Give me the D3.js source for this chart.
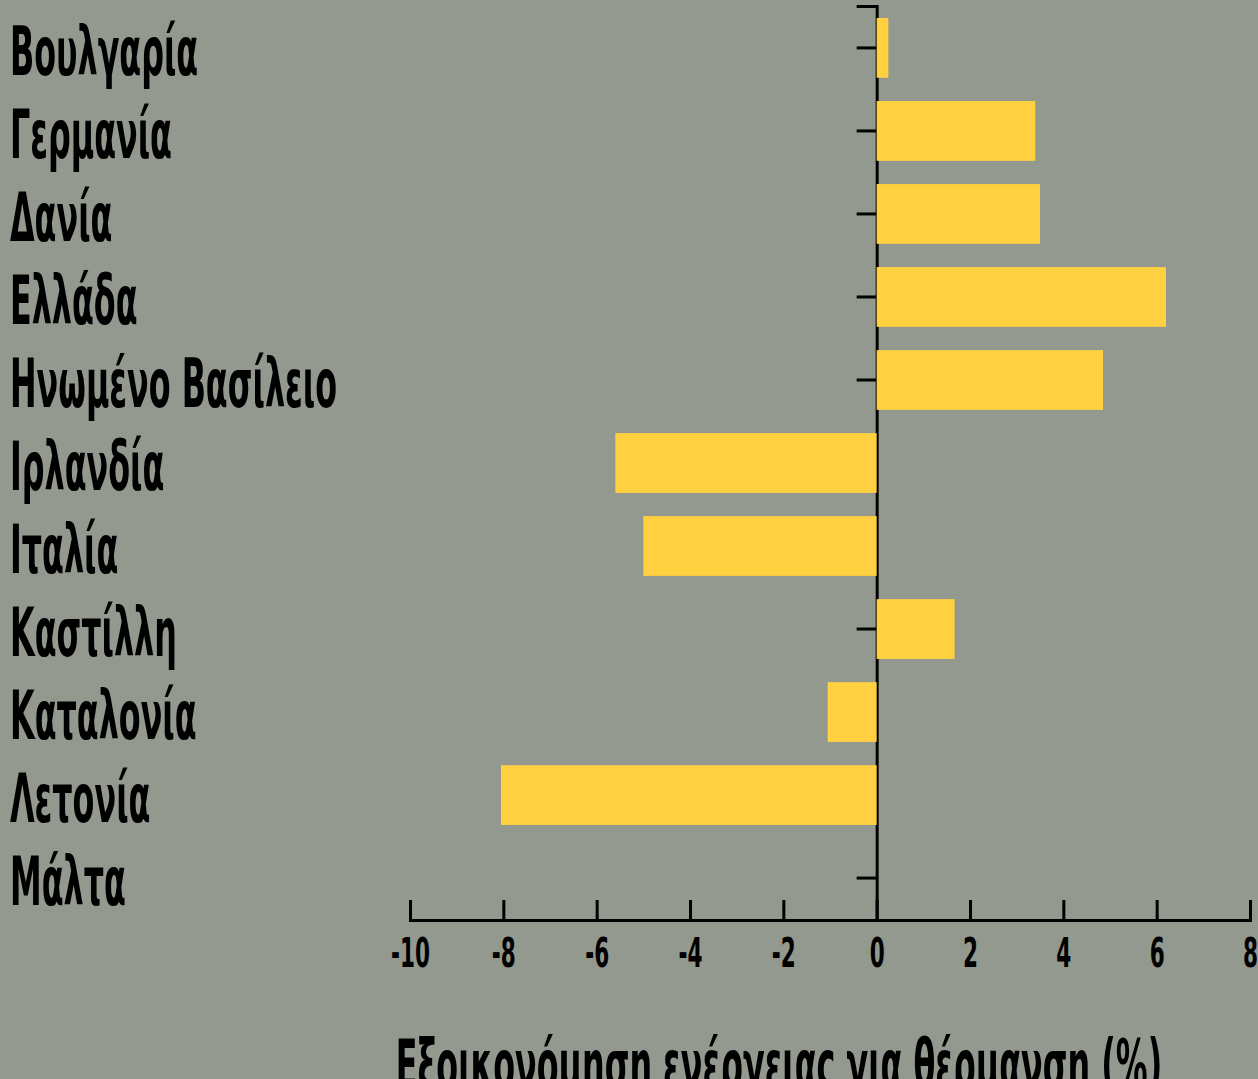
<!DOCTYPE html>
<html>
<head>
<meta charset="utf-8">
<script src="https://cdn.jsdelivr.net/npm/d3@7"></script>
<style>
  body { margin: 0; background: #93998e; overflow: hidden; }
  text { font-family: "DejaVu Sans Condensed", "Liberation Sans Narrow", sans-serif; font-weight: bold; fill: #000; }
</style>
</head>
<body>
<div id="chart"></div>
<script>
const regions = ["Βουλγαρία", "Γερμανία", "Δανία", "Ελλάδα", "Ηνωμένο Βασίλειο", "Ιρλανδία",
  "Ιταλία", "Καστίλλη", "Καταλονία", "Λετονία", "Μάλτα"];
const savings = [0.25, 3.4, 3.5, 6.2, 4.85, -5.6, -5.0, 1.67, -1.05, -8.05, 0];
const xTicks = [-10, -8, -6, -4, -2, 0, 2, 4, 6, 8];
const xTitle = "Εξοικονόμηση ενέργειας για θέρμανση (%)";

const width = 1258, height = 1079;
const squeeze = 0.52; // condensed look for the text

const svg = d3.select("#chart").append("svg")
  .attr("width", width)
  .attr("height", height);

const x = d3.scaleLinear().domain([-10, 8]).range([410, 1250]);
const y = d3.scaleBand().domain(regions).range([6, 920])
  .paddingInner(0.28).paddingOuter(0.145);

// y axis at zero
const yAxis = svg.append("g")
  .attr("transform", `translate(${x(0)},0)`)
  .call(d3.axisLeft(y).tickSize(20).tickFormat(""));
yAxis.select(".domain").attr("stroke", "#000").attr("stroke-width", 3);
yAxis.selectAll(".tick line").attr("stroke", "#000").attr("stroke-width", 3);

// bars
svg.append("g")
  .selectAll("rect")
  .data(savings)
  .join("rect")
  .attr("x", d => x(Math.min(0, d)))
  .attr("y", (d, i) => y(regions[i]))
  .attr("width", d => Math.abs(x(d) - x(0)))
  .attr("height", y.bandwidth())
  .attr("fill", "#ffd040");

// x axis
const xAxis = svg.append("g")
  .attr("transform", "translate(0,920)")
  .call(d3.axisBottom(x).tickValues(xTicks).tickSize(-20).tickPadding(19)
    .tickFormat(d => String(d)));
xAxis.attr("font-family", null).attr("font-size", null);
xAxis.select(".domain").attr("stroke", "#000").attr("stroke-width", 3);
xAxis.selectAll(".tick line").attr("stroke", "#000").attr("stroke-width", 3);
xAxis.selectAll(".tick text")
  .attr("font-size", 40)
  .attr("transform", `scale(0.6,1)`);

// category labels
svg.append("g")
  .attr("transform", `scale(${squeeze},1)`)
  .selectAll("text")
  .data(regions)
  .join("text")
  .attr("x", 10 / squeeze)
  .attr("y", d => y(d) + y.bandwidth() / 2 + 27)
  .attr("font-size", 68)
  .text(d => d);

// axis title
svg.append("text")
  .attr("transform", `translate(779,1088) scale(${squeeze},1)`)
  .attr("text-anchor", "middle")
  .attr("font-size", 68)
  .text(xTitle);
</script>
</body>
</html>
